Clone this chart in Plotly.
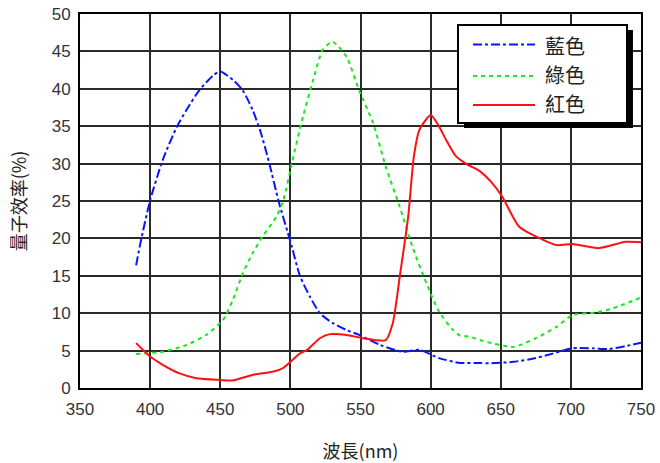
import plotly.graph_objects as go

# Quantum efficiency curves (wavelength in nm, efficiency in %)
blue_nm = [390, 393, 400, 409, 419, 426, 435, 445, 450, 459, 466, 473, 479, 485, 492, 500,
           507, 514, 521, 530, 540, 549, 564, 580, 592, 606, 621, 635, 642, 659, 675, 687,
           701, 716, 727, 739, 750]
blue_qe = [16.4, 19.3, 25.1, 30.5, 34.9, 37.2, 39.8, 41.8, 42.3, 41.2, 39.8, 37.2, 34.1, 30.0,
           24.7, 19.6, 14.9, 12.2, 10.0, 8.7, 7.75, 7.1, 5.75, 4.85, 5.1, 4.0, 3.35, 3.35, 3.3,
           3.5, 4.0, 4.6, 5.3, 5.3, 5.2, 5.6, 6.05]

green_nm = [390, 409, 426, 440, 452, 459, 466, 473, 480, 490, 495, 501, 509, 516, 523, 530,
            540, 549, 559, 568, 578, 587, 597, 606, 616, 621, 628, 637, 659, 675, 690, 701,
            718, 730, 750]
green_qe = [4.55, 4.85, 5.75, 7.1, 9.1, 11.8, 15.3, 18.0, 20.2, 22.9, 25.1, 30.0, 36.3, 41.0,
            45.2, 46.3, 44.3, 39.8, 35.4, 29.6, 24.2, 18.9, 14.0, 10.2, 7.75, 7.0, 6.85, 6.3,
            5.5, 6.65, 8.2, 9.75, 10.1, 10.65, 12.1]

red_nm = [390, 400, 409, 421, 433, 450, 459, 473, 488, 495, 507, 512, 521, 528, 540, 552,
          568, 573, 578, 584, 588, 592, 600, 605, 611, 618, 626, 635, 643, 651, 663, 678,
          690, 701, 720, 739, 750]
red_qe = [6.0, 4.2, 3.1, 1.95, 1.3, 1.07, 1.0, 1.75, 2.2, 2.7, 4.65, 5.1, 6.65, 7.2, 7.1, 6.65,
          6.4, 8.65, 14.9, 22.9, 30.9, 34.5, 36.5, 35.3, 33.2, 31.0, 29.9, 29.0, 27.6, 25.6,
          21.6, 20.0, 19.1, 19.25, 18.7, 19.55, 19.5]

x_ticks = [350, 400, 450, 500, 550, 600, 650, 700, 750]
y_ticks = [0, 5, 10, 15, 20, 25, 30, 35, 40, 45, 50]

series = [
    ("藍色", blue_nm, blue_qe, "#0a14ff", "dashdot"),
    ("綠色", green_nm, green_qe, "#11ee11", "4px,4px"),
    ("紅色", red_nm, red_qe, "#ff1010", "solid"),
]

fig = go.Figure()
for name, xs, ys, color, dash in series:
    fig.add_trace(go.Scatter(
        x=xs, y=ys, name=name, mode="lines", showlegend=False,
        line=dict(color=color, width=2, dash=dash, shape="spline", smoothing=0.6),
    ))

# Boxed key in the upper right, with a drop shadow
shapes = [
    dict(type="rect", xref="paper", yref="paper",
         x0=0.6845, x1=0.9857, y0=0.6952, y1=0.9572,
         fillcolor="black", line=dict(width=0), layer="above"),
    dict(type="rect", xref="paper", yref="paper",
         x0=0.6738, x1=0.9750, y0=0.7086, y1=0.9706,
         fillcolor="white", line=dict(color="black", width=2), layer="above"),
]
annotations = []
key_line_y = [0.9184, 0.8342, 0.7567]
key_text_y = [0.9171, 0.8369, 0.7620]
for (name, _, _, color, dash), ly, ty in zip(series, key_line_y, key_text_y):
    shapes.append(dict(type="line", xref="paper", yref="paper",
                       x0=0.7005, x1=0.8111, y0=ly, y1=ly,
                       line=dict(color=color, width=2, dash=dash), layer="above"))
    annotations.append(dict(xref="paper", yref="paper", x=0.8253, y=ty,
                            xanchor="left", yanchor="middle", showarrow=False,
                            text=name,
                            font=dict(family="Noto Sans CJK TC, sans-serif", size=20,
                                      color="#222222")))

tick_font = dict(family="Liberation Sans, Arial, sans-serif", size=17, color="#333333")
title_font = dict(family="Noto Sans CJK TC, Liberation Sans, sans-serif", size=18, color="#222222")

fig.update_layout(
    width=660, height=463,
    margin=dict(l=80, r=19, t=14, b=75),
    paper_bgcolor="white", plot_bgcolor="white",
    showlegend=False,
    xaxis=dict(
        range=[350, 750], tickvals=x_ticks, ticktext=[str(v) for v in x_ticks],
        showgrid=True, gridcolor="#2a2a2a", gridwidth=1.5,
        showline=True, linecolor="black", linewidth=2, mirror=True,
        ticks="outside", ticklen=5, tickcolor="white", tickfont=tick_font, zeroline=False,
        automargin=False,
        title=dict(text="波長(nm)", font=title_font, standoff=30),
    ),
    yaxis=dict(
        range=[0, 50], tickvals=y_ticks, ticktext=[str(v) for v in y_ticks],
        showgrid=True, gridcolor="#2a2a2a", gridwidth=1.5,
        showline=True, linecolor="black", linewidth=2, mirror=True,
        ticks="outside", ticklen=4, tickcolor="white", tickfont=tick_font, zeroline=False,
        automargin=False,
        title=dict(text="量子效率(%)", font=title_font, standoff=20),
    ),
    shapes=shapes,
    annotations=annotations,
)

fig.write_html("out.html")
